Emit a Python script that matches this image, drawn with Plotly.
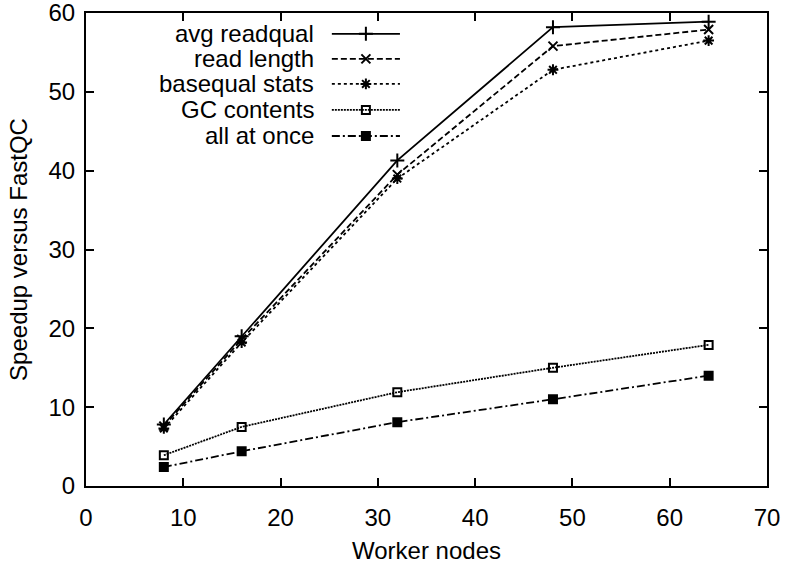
import plotly.graph_objects as go

nodes = [8, 16, 32, 48, 64]
avg_readqual = [7.8, 19.0, 41.3, 58.2, 58.9]
read_length = [7.6, 18.6, 39.5, 55.8, 57.9]
basequal_stats = [7.3, 18.2, 39.0, 52.8, 56.5]
gc_contents = [3.9, 7.5, 11.9, 15.0, 17.9]
all_at_once = [2.4, 4.4, 8.1, 11.0, 14.0]

names = ["avg readqual", "read length", "basequal stats", "GC contents", "all at once"]
series = [avg_readqual, read_length, basequal_stats, gc_contents, all_at_once]
dashes = ["solid", "6px,3px", "3px,3px", "2px,1px", "8px,3px,2px,3px"]
symbols = ["cross-thin-open", "x-thin-open", "asterisk-open", "square-open", "square"]
msizes = [10, 9, 9, 8, 8]

x_ticks = [0, 10, 20, 30, 40, 50, 60, 70]
y_ticks = [0, 10, 20, 30, 40, 50, 60]

FONT = "Liberation Sans, Arial, Helvetica, sans-serif"
FS = 24

fig = go.Figure()
for name, ys, d, s, ms in zip(names, series, dashes, symbols, msizes):
    fig.add_trace(go.Scatter(
        x=nodes, y=ys, mode="lines+markers", name=name,
        line=dict(color="black", width=1.8, dash=d),
        marker=dict(symbol=s, size=ms, color="black",
                    line=dict(color="black", width=2)),
        showlegend=False,
    ))

# custom legend (text right-aligned, sample line to the right) on an overlay axis
row_y = [0.956, 0.903, 0.850, 0.795, 0.740]
for name, d, s, ms, ry in zip(names, dashes, symbols, msizes, row_y):
    fig.add_trace(go.Scatter(
        x=[0.361, 0.411, 0.461], y=[ry, ry, ry], mode="lines",
        line=dict(color="black", width=1.8, dash=d),
        xaxis="x2", yaxis="y2", showlegend=False, hoverinfo="skip",
    ))
    fig.add_trace(go.Scatter(
        x=[0.411], y=[ry], mode="markers",
        marker=dict(symbol=s, size=ms, color="black",
                    line=dict(color="black", width=2)),
        xaxis="x2", yaxis="y2", showlegend=False, hoverinfo="skip",
    ))
    fig.add_annotation(
        x=0.337, y=ry, xref="x2", yref="y2", text=name, showarrow=False,
        xanchor="right", yanchor="middle",
        font=dict(family=FONT, size=FS, color="black"),
    )

axis_common = dict(
    showgrid=False, zeroline=False, showline=True, linecolor="black",
    linewidth=2, mirror="allticks", ticks="inside", ticklen=8,
    tickwidth=1.5, tickcolor="black", automargin=False,
    ticklabeloverflow="allow",
    tickfont=dict(family=FONT, size=FS, color="black"),
)

fig.update_layout(
    width=785, height=565,
    margin=dict(l=86, r=18, t=13, b=79),
    plot_bgcolor="white", paper_bgcolor="white",
    xaxis=dict(range=[0, 70], tickvals=x_ticks, ticklabelstandoff=9,
               title=dict(text="Worker nodes", standoff=12,
                          font=dict(family=FONT, size=FS, color="black")),
               **axis_common),
    yaxis=dict(range=[0, 60], tickvals=y_ticks, ticklabelstandoff=4,
               title=dict(text="Speedup versus FastQC", standoff=14,
                          font=dict(family=FONT, size=FS, color="black")),
               **axis_common),
    xaxis2=dict(range=[0, 1], overlaying="x", visible=False, fixedrange=True),
    yaxis2=dict(range=[0, 1], overlaying="y", visible=False, fixedrange=True),
    showlegend=False,
)

fig.write_html("out.html", config={"displayModeBar": False},
               post_script="document.body.style.margin='0px';")
